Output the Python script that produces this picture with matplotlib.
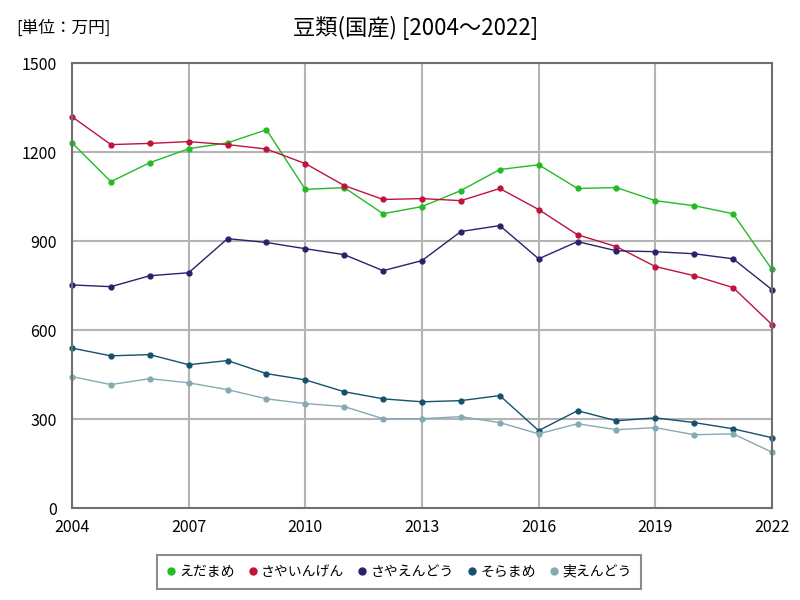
import matplotlib
matplotlib.use("Agg")
import matplotlib.pyplot as plt

plt.rcParams['font.family'] = ['Noto Sans CJK JP', 'DejaVu Sans']

years = list(range(2004, 2023))

edamame = [1231, 1100, 1164, 1211, 1231, 1275, 1074, 1080, 992, 1016,
           1070, 1141, 1157, 1077, 1080, 1036, 1019, 992, 804]
sayaingen = [1319, 1225, 1229, 1235, 1225, 1210, 1161, 1087, 1040, 1043,
             1036, 1077, 1006, 921, 881, 814, 783, 743, 618]
sayaendou = [752, 746, 783, 793, 908, 895, 874, 854, 800, 834,
             932, 952, 840, 898, 867, 864, 857, 840, 736]
soramame = [539, 513, 517, 483, 497, 453, 432, 392, 368, 358,
            362, 379, 261, 328, 294, 304, 288, 267, 237]
miendou = [443, 416, 436, 422, 399, 368, 352, 342, 301, 301,
           308, 288, 250, 284, 264, 271, 247, 250, 188]

series = [
    ("えだまめ", edamame, "#22bb22"),
    ("さやいんげん", sayaingen, "#c0123c"),
    ("さやえんどう", sayaendou, "#2e1f6b"),
    ("そらまめ", soramame, "#15506e"),
    ("実えんどう", miendou, "#86aab2"),
]

fig = plt.figure(figsize=(8, 6), dpi=100)
ax = fig.add_axes([0.09, 0.1533, 0.875, 0.7417])

for name, vals, col in series:
    ax.plot(years, vals, '-', color=col, lw=1.0, marker='o', ms=3.5, label=name, clip_on=False)

ax.set_xlim(2004, 2022)
ax.set_ylim(0, 1500)
ax.set_xticks(range(2004, 2023, 3))
ax.set_yticks(range(0, 1501, 300))
ax.grid(True, color='#b4b4b4', lw=1.5)
ax.set_axisbelow(True)
for s in ax.spines.values():
    s.set_color('#707070')
    s.set_linewidth(1.5)
ax.tick_params(length=0, labelsize=11.5)
ax.tick_params(axis='y', pad=11)
ax.tick_params(axis='x', pad=8)

fig.text(0.52, 0.953, "豆類(国産) [2004～2022]", ha='center', va='center', fontsize=16)
fig.text(0.02, 0.953, "[単位：万円]", ha='left', va='center', fontsize=12)

leg = fig.legend(loc='center', bbox_to_anchor=(0.499, 0.047), ncol=5, fontsize=10,
                 frameon=True, fancybox=False, edgecolor='#707070',
                 handlelength=0.6, handletextpad=0.3, columnspacing=1.0,
                 borderpad=0.7)
for h in leg.get_lines():
    h.set_linestyle('')
    h.set_markersize(5)
leg.get_frame().set_linewidth(1.5)

fig.savefig("out.png", dpi=100)
